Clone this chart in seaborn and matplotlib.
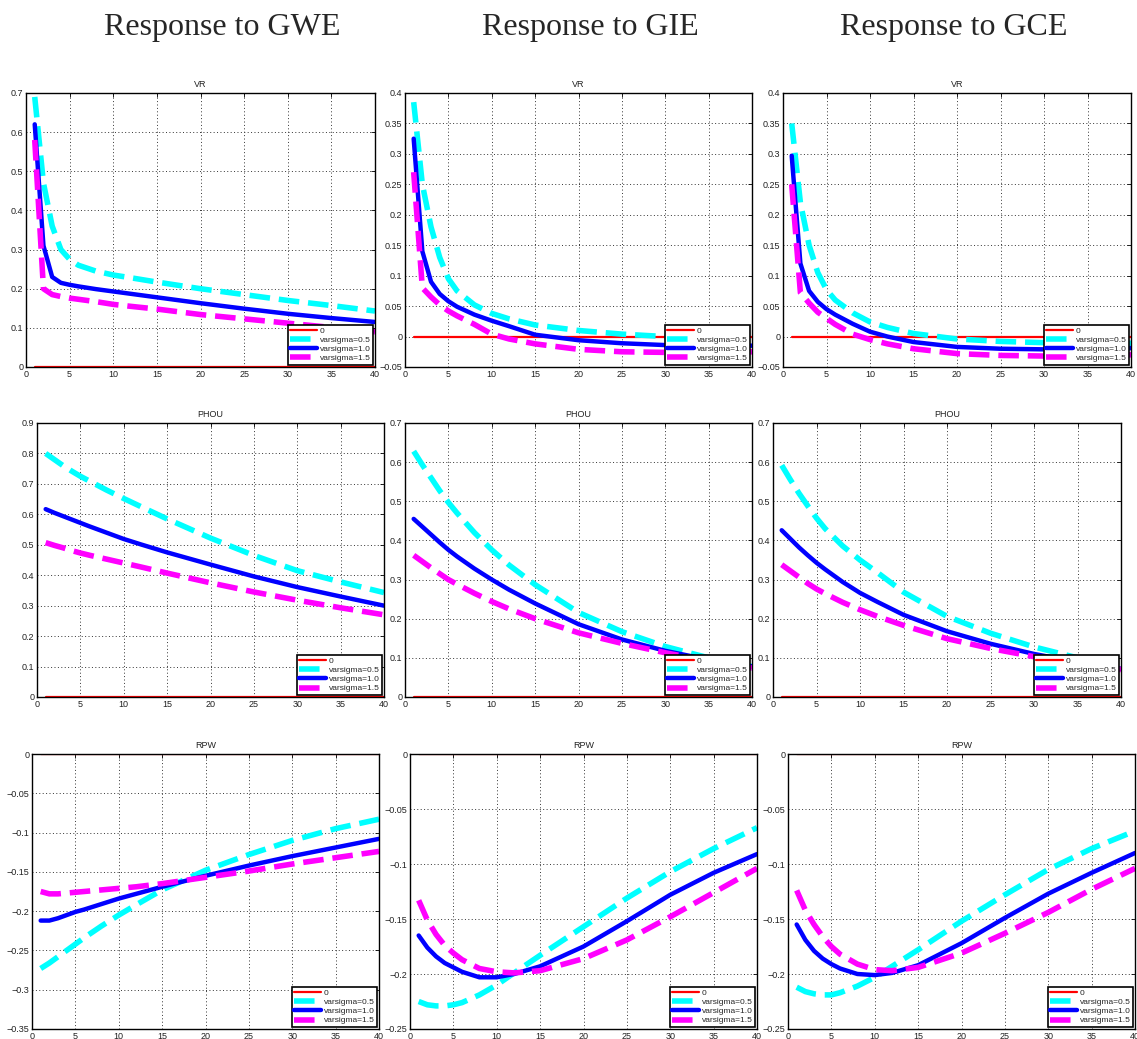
import numpy as np
import pandas as pd
import matplotlib
matplotlib.use("Agg")
import matplotlib.pyplot as plt
import seaborn as sns
from matplotlib.ticker import FuncFormatter

## Data ##
periods = [1, 2, 3, 4, 5, 6, 8, 10, 12, 15, 20, 25, 30, 35, 40]
zero_line = [0.0] * len(periods)

shocks = ["GWE", "GIE", "GCE"]
variables = ["VR", "PHOU", "RPW"]
series_labels = ["0", "varsigma=0.5", "varsigma=1.0", "varsigma=1.5"]

# VR
vr_gwe_05 = [0.69, 0.47, 0.36, 0.30, 0.275, 0.26, 0.245, 0.235, 0.228, 0.217, 0.20, 0.185, 0.17, 0.157, 0.143]
vr_gwe_10 = [0.62, 0.31, 0.23, 0.215, 0.21, 0.206, 0.199, 0.193, 0.187, 0.178, 0.163, 0.149, 0.136, 0.125, 0.115]
vr_gwe_15 = [0.58, 0.20, 0.185, 0.18, 0.176, 0.173, 0.167, 0.16, 0.155, 0.148, 0.134, 0.123, 0.112, 0.101, 0.09]

vr_gie_05 = [0.385, 0.25, 0.18, 0.13, 0.095, 0.075, 0.052, 0.038, 0.029, 0.019, 0.01, 0.004, 0.0, -0.002, -0.003]
vr_gie_10 = [0.325, 0.14, 0.09, 0.07, 0.058, 0.049, 0.036, 0.026, 0.017, 0.003, -0.006, -0.011, -0.014, -0.015, -0.015]
vr_gie_15 = [0.27, 0.08, 0.065, 0.052, 0.042, 0.034, 0.02, 0.004, -0.004, -0.012, -0.021, -0.025, -0.026, -0.026, -0.025]

vr_gce_05 = [0.35, 0.22, 0.15, 0.105, 0.077, 0.06, 0.039, 0.024, 0.015, 0.005, -0.004, -0.008, -0.01, -0.011, -0.011]
vr_gce_10 = [0.297, 0.12, 0.075, 0.057, 0.045, 0.036, 0.021, 0.008, 0.0, -0.009, -0.017, -0.02, -0.021, -0.021, -0.019]
vr_gce_15 = [0.25, 0.072, 0.055, 0.04, 0.03, 0.02, 0.004, -0.005, -0.012, -0.02, -0.028, -0.031, -0.032, -0.031, -0.03]

# PHOU
phou_gwe_05 = [0.80, 0.78, 0.76, 0.742, 0.725, 0.71, 0.68, 0.652, 0.625, 0.585, 0.522, 0.465, 0.415, 0.378, 0.343]
phou_gwe_10 = [0.617, 0.605, 0.594, 0.583, 0.572, 0.561, 0.54, 0.519, 0.501, 0.475, 0.435, 0.396, 0.361, 0.33, 0.30]
phou_gwe_15 = [0.507, 0.498, 0.49, 0.481, 0.473, 0.466, 0.453, 0.44, 0.427, 0.407, 0.375, 0.345, 0.318, 0.293, 0.27]

phou_gie_05 = [0.628, 0.593, 0.56, 0.527, 0.497, 0.47, 0.42, 0.376, 0.337, 0.287, 0.216, 0.167, 0.129, 0.10, 0.078]
phou_gie_10 = [0.455, 0.435, 0.415, 0.395, 0.376, 0.359, 0.328, 0.30, 0.274, 0.239, 0.186, 0.147, 0.118, 0.095, 0.078]
phou_gie_15 = [0.362, 0.346, 0.33, 0.315, 0.30, 0.288, 0.265, 0.244, 0.225, 0.20, 0.164, 0.137, 0.113, 0.092, 0.074]

phou_gce_05 = [0.592, 0.555, 0.52, 0.488, 0.457, 0.43, 0.386, 0.35, 0.318, 0.268, 0.206, 0.163, 0.128, 0.10, 0.078]
phou_gce_10 = [0.426, 0.404, 0.382, 0.362, 0.343, 0.326, 0.294, 0.266, 0.243, 0.21, 0.168, 0.136, 0.11, 0.089, 0.072]
phou_gce_15 = [0.338, 0.322, 0.306, 0.29, 0.276, 0.264, 0.242, 0.223, 0.206, 0.183, 0.149, 0.124, 0.103, 0.085, 0.07]

# RPW
rpw_gwe_05 = [-0.273, -0.266, -0.258, -0.25, -0.242, -0.234, -0.219, -0.205, -0.192, -0.173, -0.148, -0.128, -0.11, -0.095, -0.083]
rpw_gwe_10 = [-0.212, -0.212, -0.209, -0.205, -0.201, -0.198, -0.191, -0.184, -0.178, -0.169, -0.155, -0.142, -0.13, -0.119, -0.108]
rpw_gwe_15 = [-0.175, -0.178, -0.178, -0.177, -0.176, -0.175, -0.173, -0.171, -0.169, -0.165, -0.157, -0.149, -0.14, -0.132, -0.124]

rpw_gie_05 = [-0.225, -0.228, -0.229, -0.229, -0.228, -0.226, -0.219, -0.21, -0.199, -0.183, -0.157, -0.131, -0.107, -0.086, -0.067]
rpw_gie_10 = [-0.165, -0.176, -0.184, -0.19, -0.194, -0.198, -0.203, -0.203, -0.20, -0.193, -0.175, -0.152, -0.128, -0.108, -0.091]
rpw_gie_15 = [-0.133, -0.151, -0.164, -0.174, -0.181, -0.187, -0.195, -0.198, -0.199, -0.197, -0.186, -0.169, -0.148, -0.126, -0.104]

rpw_gce_05 = [-0.212, -0.216, -0.218, -0.219, -0.219, -0.217, -0.211, -0.203, -0.193, -0.178, -0.152, -0.128, -0.105, -0.086, -0.07]
rpw_gce_10 = [-0.155, -0.169, -0.179, -0.186, -0.191, -0.195, -0.20, -0.201, -0.199, -0.192, -0.172, -0.149, -0.127, -0.108, -0.09]
rpw_gce_15 = [-0.124, -0.142, -0.155, -0.166, -0.175, -0.182, -0.191, -0.196, -0.197, -0.194, -0.181, -0.163, -0.144, -0.123, -0.104]

panel_data = {
    ("VR", "GWE"): [vr_gwe_05, vr_gwe_10, vr_gwe_15],
    ("VR", "GIE"): [vr_gie_05, vr_gie_10, vr_gie_15],
    ("VR", "GCE"): [vr_gce_05, vr_gce_10, vr_gce_15],
    ("PHOU", "GWE"): [phou_gwe_05, phou_gwe_10, phou_gwe_15],
    ("PHOU", "GIE"): [phou_gie_05, phou_gie_10, phou_gie_15],
    ("PHOU", "GCE"): [phou_gce_05, phou_gce_10, phou_gce_15],
    ("RPW", "GWE"): [rpw_gwe_05, rpw_gwe_10, rpw_gwe_15],
    ("RPW", "GIE"): [rpw_gie_05, rpw_gie_10, rpw_gie_15],
    ("RPW", "GCE"): [rpw_gce_05, rpw_gce_10, rpw_gce_15],
}

## Layout / style ##
W, H = 1137, 1039
# pixel boxes (left, top, right, bottom) per row/col
boxes = [
    [(26, 93, 375, 367), (405, 93, 752, 367), (783, 93, 1131, 367)],
    [(37, 423, 384, 697), (405, 423, 752, 697), (773, 423, 1121, 697)],
    [(32, 754, 379, 1029), (410, 754, 757, 1029), (788, 754, 1135, 1029)],
]
ylims = {
    ("VR", "GWE"): (0, 0.7, 0.1), ("VR", "GIE"): (-0.05, 0.4, 0.05), ("VR", "GCE"): (-0.05, 0.4, 0.05),
    ("PHOU", "GWE"): (0, 0.9, 0.1), ("PHOU", "GIE"): (0, 0.7, 0.1), ("PHOU", "GCE"): (0, 0.7, 0.1),
    ("RPW", "GWE"): (-0.35, 0, 0.05), ("RPW", "GIE"): (-0.25, 0, 0.05), ("RPW", "GCE"): (-0.25, 0, 0.05),
}
colors = ["#ff0000", "#00ffff", "#0000ff", "#ff00ff"]
widths = [1.6, 4.0, 3.2, 4.0]
styles = ["-", "--", "-", "--"]

sns.set_style("white")
plt.rcParams["font.family"] = ["Liberation Sans", "DejaVu Sans"]
plt.rcParams["axes.edgecolor"] = "black"

fig = plt.figure(figsize=(W / 100, H / 100), dpi=100)

fmt = FuncFormatter(lambda v, p: "0" if abs(v) < 1e-9 else ("%g" % round(v, 3)).replace("-", "\u2212"))

for r, var in enumerate(variables):
    for c, shock in enumerate(shocks):
        l, t, rr, b = boxes[r][c]
        ax = fig.add_axes([l / W, 1 - b / H, (rr - l) / W, (b - t) / H])
        curves = [zero_line] + panel_data[(var, shock)]
        for i, vals in enumerate(curves):
            df = pd.DataFrame({"period": periods, "value": vals})
            sns.lineplot(data=df, x="period", y="value", ax=ax, color=colors[i],
                         linewidth=widths[i], linestyle=styles[i], label=series_labels[i])
        lo, hi, step = ylims[(var, shock)]
        ax.set_xlim(0, 40)
        ax.set_ylim(lo, hi)
        ax.set_xticks(np.arange(0, 41, 5))
        ax.set_yticks(np.arange(lo, hi + step / 2, step))
        ax.yaxis.set_major_formatter(fmt)
        ax.set_xlabel("")
        ax.set_ylabel("")
        ax.set_title(var, fontsize=6.5, pad=4, color="#222222")
        ax.grid(True, linestyle=(0, (1, 2.5)), color="#333333", linewidth=0.7)
        ax.tick_params(direction="in", top=True, right=True, length=3, width=0.6,
                       labelsize=6.5, pad=2, colors="black", labelcolor="#222222")
        for s in ax.spines.values():
            s.set_linewidth(1.0)
            s.set_color("black")
        leg = ax.legend(loc="lower right", fontsize=6, frameon=True, fancybox=False,
                        borderaxespad=0.25, handlelength=3.2, labelspacing=0.15,
                        borderpad=0.3, handletextpad=0.3, framealpha=1)
        leg.get_frame().set_edgecolor("black")
        leg.get_frame().set_linewidth(1.2)

# column headers
for shock, xc in zip(shocks, [222, 590, 954]):
    fig.text(xc / W, 1 - 27 / H, "Response to " + shock, ha="center", va="center",
             fontsize=23, family=["Liberation Serif", "DejaVu Serif"])

fig.savefig("out.png", dpi=100)
